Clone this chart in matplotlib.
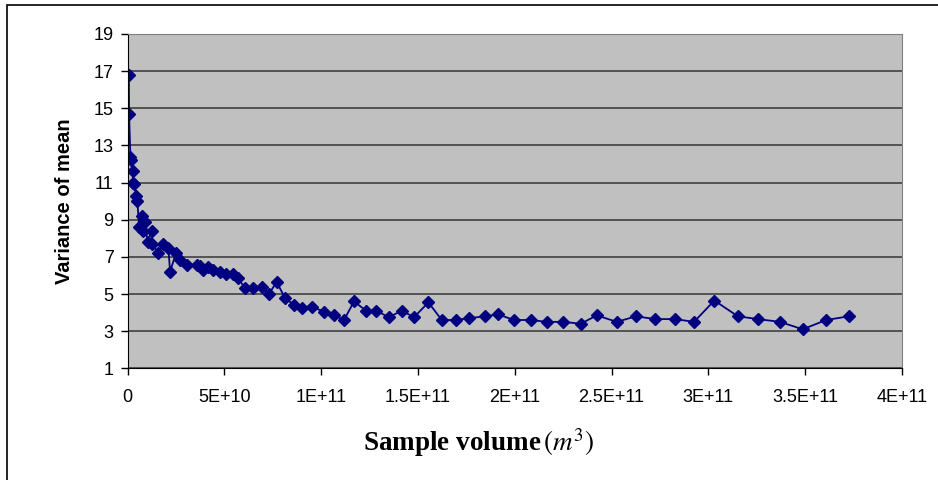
import matplotlib
matplotlib.use("Agg")
import matplotlib.pyplot as plt
from matplotlib.patches import Rectangle
from matplotlib.ticker import FixedLocator, FuncFormatter

# sample volume (units of 1e9 m^3) and variance of mean
volume_e9 = [0.7, 0.8, 1.5, 2.0, 2.6, 3.0, 3.6, 4.5, 5.1, 6.0, 7.3, 7.9, 9.0, 10.4,
             12.5, 12.8, 15.9, 18.5, 21.1, 22.0, 25.0, 27.1, 30.6, 35.7, 37.4, 39.2,
             41.8, 44.3, 47.8, 50.8, 54.3, 57.2, 60.7, 64.9, 69.3, 73.1, 77.0, 81.3,
             86.0, 90.3, 95.4, 101.5, 106.7, 111.8, 117.0, 123.2, 128.4, 135.0, 141.6,
             148.0, 155.4, 162.3, 169.5, 176.6, 184.7, 191.5, 199.6, 208.4, 216.5,
             225.1, 234.1, 242.4, 252.7, 262.6, 272.5, 282.8, 292.6, 303.1, 315.2,
             325.5, 337.0, 348.7, 360.8, 372.6]
variance = [16.8, 14.7, 12.4, 12.2, 11.6, 11.0, 10.9, 10.3, 10.0, 8.6, 9.2, 8.4, 8.9, 7.8,
            8.4, 7.7, 7.2, 7.7, 7.5, 6.2, 7.2, 6.85, 6.55, 6.55, 6.5, 6.3,
            6.45, 6.3, 6.2, 6.1, 6.1, 5.85, 5.3, 5.3, 5.4, 5.0, 5.65, 4.8,
            4.4, 4.25, 4.3, 4.05, 3.85, 3.6, 4.6, 4.1, 4.1, 3.75, 4.1,
            3.75, 4.55, 3.6, 3.6, 3.7, 3.8, 3.9, 3.6, 3.6, 3.5,
            3.5, 3.4, 3.85, 3.5, 3.8, 3.65, 3.65, 3.5, 4.65, 3.8,
            3.65, 3.5, 3.1, 3.6, 3.8]
volume = [v * 1e9 for v in volume_e9]

x_ticks = [0, 5e10, 1e11, 1.5e11, 2e11, 2.5e11, 3e11, 3.5e11, 4e11]
x_tick_labels = ["0", "5E+10", "1E+11", "1.5E+11", "2E+11", "2.5E+11", "3E+11", "3.5E+11", "4E+11"]
y_ticks = [1, 3, 5, 7, 9, 11, 13, 15, 17, 19]

plt.rcParams["font.family"] = ["Liberation Sans", "DejaVu Sans"]
plt.rcParams["mathtext.fontset"] = "stix"

fig = plt.figure(figsize=(9.38, 4.8), dpi=100)
fig.patches.append(Rectangle((7 / 938, -0.1), 1.2, 1 - 5 / 480 + 0.1, transform=fig.transFigure,
                             fill=False, edgecolor="black", linewidth=1.2))

ax = fig.add_axes([127.5 / 938, 1 - 368.3 / 480, (902 - 127.5) / 938, (368.3 - 34) / 480])
ax.set_facecolor("#c0c0c0")
ax.plot(volume, variance, color="#000080", linewidth=1.3, marker="D", markersize=6)

ax.set_xlim(0, 4e11)
ax.set_ylim(1, 19)
ax.xaxis.set_major_locator(FixedLocator(x_ticks))
ax.xaxis.set_major_formatter(FuncFormatter(lambda v, p: x_tick_labels[p] if p is not None and p < len(x_tick_labels) else ""))
ax.set_yticks(y_ticks)
ax.grid(axis="y", color="#404040", linewidth=1.2)
ax.set_axisbelow(True)

for side in ["top", "right"]:
    ax.spines[side].set_color("#808080")
for side in ["left", "bottom"]:
    ax.spines[side].set_color("black")
ax.tick_params(direction="out", length=5, width=1, labelsize=13, colors="black", pad=10)
ax.tick_params(axis="y", pad=5)

ax.set_ylabel("Variance of mean", fontsize=14.5, fontweight="bold", labelpad=14)
fig.text(479 / 938, 1 - 443 / 480, r"Sample volume$\,\left(m^3\right)$", ha="center", va="center",
         fontsize=19.5, fontweight="bold", family=["Liberation Serif", "DejaVu Serif"])

fig.savefig("out.png", dpi=100)
